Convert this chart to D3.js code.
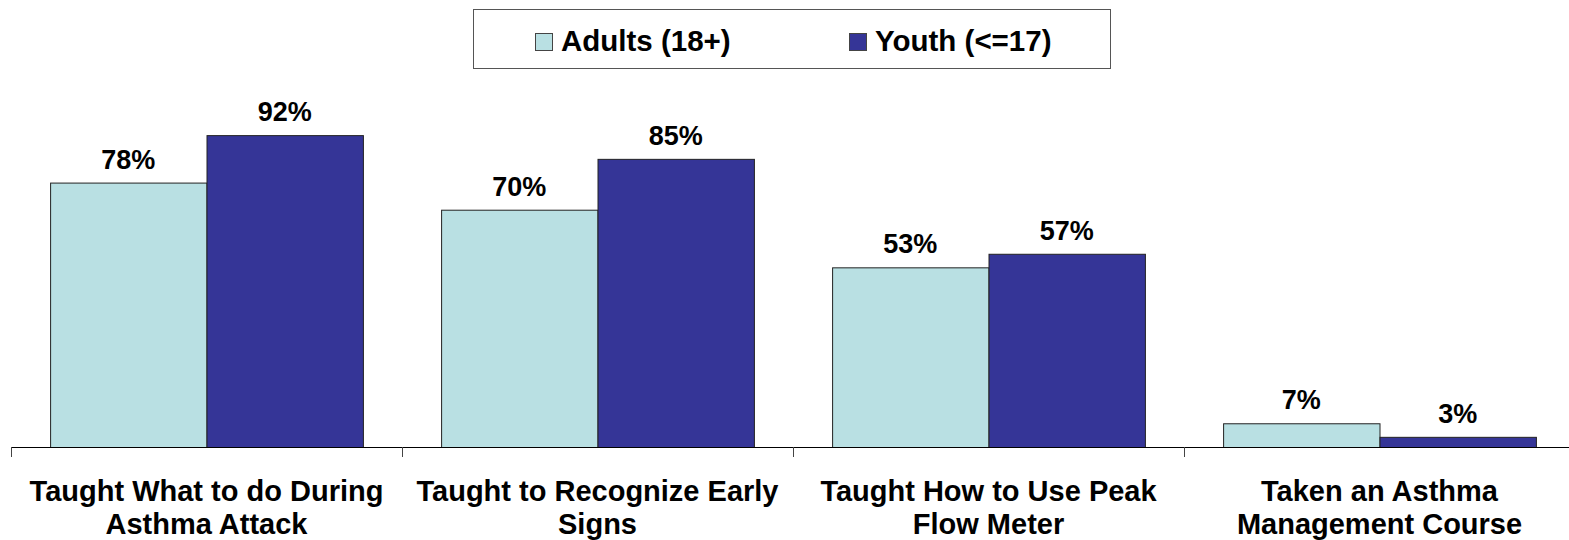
<!DOCTYPE html>
<html lang="en">
    <head>
        <meta charset="utf-8">
        <title>Asthma Education</title>
        <script src="https://d3js.org/d3.v7.min.js"></script>
        <style>
            body { margin: 0; background: #fff; }
            text { font-family: "Liberation Sans", Arial, sans-serif; font-weight: bold; fill: #000; }
        </style>
    </head>
    <body>
        <div id="chart"></div>
        <script>
            // data
            var categories = ["Taught What to do During Asthma Attack",
                              "Taught to Recognize Early Signs",
                              "Taught How to Use Peak Flow Meter",
                              "Taken an Asthma Management Course"];
            var categoryLines = [["Taught What to do During", "Asthma Attack"],
                                 ["Taught to Recognize Early", "Signs"],
                                 ["Taught How to Use Peak", "Flow Meter"],
                                 ["Taken an Asthma", "Management Course"]];
            var seriesNames = ["Adults (18+)", "Youth (<=17)"];
            var adults = [78, 70, 53, 7];
            var youth = [92, 85, 57, 3];
            var colors = ["#b9e0e3", "#353597"];

            var width = 1569, height = 540;
            var baseY = 447;

            var svg = d3.select("#chart").append("svg")
                .attr("width", width)
                .attr("height", height);

            var x = d3.scaleBand()
                .domain(categories)
                .range([11, 11 + 391 * categories.length])
                .padding(0);

            var xs = d3.scaleBand()
                .domain(seriesNames)
                .range([0, x.bandwidth()])
                .paddingInner(0)
                .paddingOuter(0.25);

            var y = d3.scaleLinear()
                .domain([0, 100])
                .range([baseY, baseY - 339]);

            var rows = categories.map(function(c, i) {
                return {cat: c, values: [adults[i], youth[i]]};
            });

            var groups = svg.selectAll(".grp")
                .data(rows).enter()
                .append("g")
                .attr("transform", function(d) { return "translate(" + x(d.cat) + ",0)"; });

            groups.selectAll("rect")
                .data(function(d) { return d.values.map(function(v, j) { return {s: seriesNames[j], v: v, j: j}; }); })
                .enter().append("rect")
                .attr("x", function(d) { return xs(d.s) + 0.5; })
                .attr("y", function(d) { return y(d.v) + 0.5; })
                .attr("width", xs.bandwidth())
                .attr("height", function(d) { return baseY - y(d.v); })
                .style("fill", function(d) { return colors[d.j]; })
                .style("stroke", "#222")
                .style("stroke-width", 1);

            groups.selectAll(".val")
                .data(function(d) { return d.values.map(function(v, j) { return {s: seriesNames[j], v: v}; }); })
                .enter().append("text")
                .attr("x", function(d) { return xs(d.s) + xs.bandwidth() / 2; })
                .attr("y", function(d) { return y(d.v) - 14; })
                .attr("text-anchor", "middle")
                .style("font-size", "27px")
                .text(function(d) { return d.v + "%"; });

            // axis line and boundary ticks
            svg.append("line")
                .attr("x1", x.range()[0]).attr("x2", width)
                .attr("y1", baseY + 0.5).attr("y2", baseY + 0.5)
                .style("stroke", "#000");

            svg.selectAll(".tick")
                .data(categories).enter()
                .append("line")
                .attr("x1", function(d) { return Math.round(x(d)) + 0.5; })
                .attr("x2", function(d) { return Math.round(x(d)) + 0.5; })
                .attr("y1", baseY).attr("y2", baseY + 10)
                .style("stroke", "#444");

            // category labels, two lines each
            svg.selectAll(".cat")
                .data(categories).enter()
                .append("text")
                .attr("text-anchor", "middle")
                .style("font-size", "29px")
                .each(function(d, i) {
                    var t = d3.select(this);
                    categoryLines[i].forEach(function(line, k) {
                        t.append("tspan")
                            .attr("x", x(d) + x.bandwidth() / 2)
                            .attr("y", 501 + k * 33)
                            .text(line);
                    });
                });

            // legend
            var legend = svg.append("g");
            legend.append("rect")
                .attr("x", 473.5).attr("y", 9.5)
                .attr("width", 637).attr("height", 59)
                .style("fill", "#fff")
                .style("stroke", "#555");

            var legendX = [535, 849];
            seriesNames.forEach(function(s, j) {
                legend.append("rect")
                    .attr("x", legendX[j] + 0.5).attr("y", 33.5)
                    .attr("width", 17).attr("height", 17)
                    .style("fill", colors[j])
                    .style("stroke", "#444");
                legend.append("text")
                    .attr("x", legendX[j] + 26)
                    .attr("y", 51)
                    .style("font-size", "29.5px")
                    .text(s);
            });
        </script>
    </body>
</html>
